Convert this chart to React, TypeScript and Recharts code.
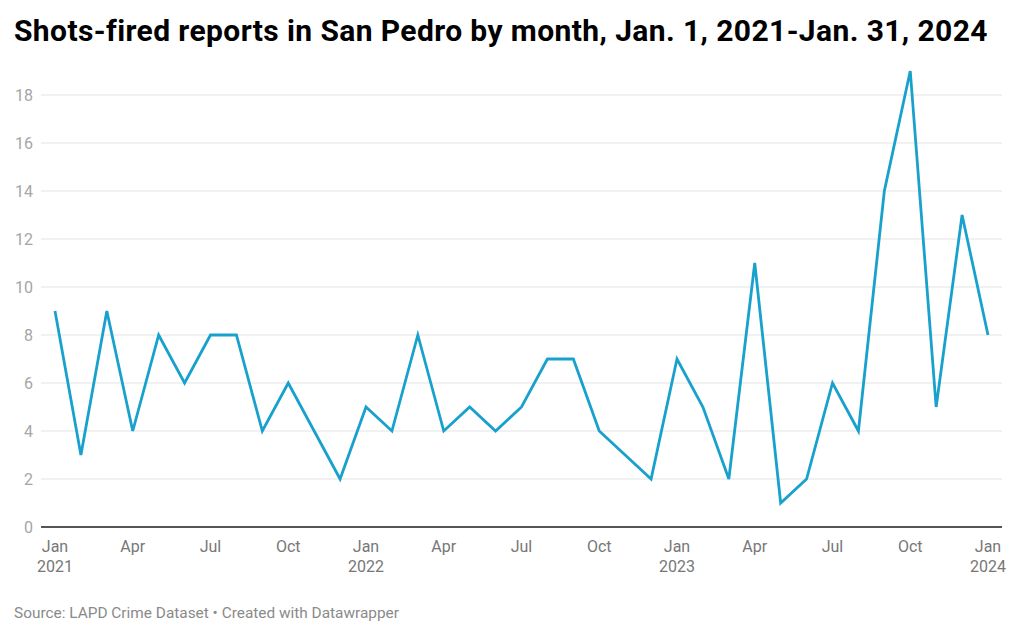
import React from "react";
import { LineChart, Line, XAxis, YAxis, CartesianGrid } from "recharts";

const months: string[] = [
  "2021-01","2021-02","2021-03","2021-04","2021-05","2021-06","2021-07","2021-08","2021-09","2021-10","2021-11","2021-12",
  "2022-01","2022-02","2022-03","2022-04","2022-05","2022-06","2022-07","2022-08","2022-09","2022-10","2022-11","2022-12",
  "2023-01","2023-02","2023-03","2023-04","2023-05","2023-06","2023-07","2023-08","2023-09","2023-10","2023-11","2023-12",
  "2024-01",
];
const reports: number[] = [
  9, 3, 9, 4, 8, 6, 8, 8, 4, 6, 4, 2,
  5, 4, 8, 4, 5, 4, 5, 7, 7, 4, 3, 2,
  7, 5, 2, 11, 1, 2, 6, 4, 14, 19, 5, 13,
  8,
];
const monthNames: string[] = ["Jan","Feb","Mar","Apr","May","Jun","Jul","Aug","Sep","Oct","Nov","Dec"];
const yTicks: number[] = [0, 2, 4, 6, 8, 10, 12, 14, 16, 18];

const data = months.map((m, i) => ({ month: m, value: reports[i] }));

const FONT = "Roboto, 'Noto Sans', sans-serif";

const XTick = (props: any) => {
  const { x, y, payload } = props;
  const [yr, mo] = String(payload.value).split("-");
  const name = monthNames[parseInt(mo, 10) - 1];
  return (
    <g>
      <text x={x} y={y + 17} textAnchor="middle" fill="#777" fontSize={16} fontFamily={FONT}>
        {name}
      </text>
      {mo === "01" && (
        <text x={x} y={y + 37} textAnchor="middle" fill="#777" fontSize={16} fontFamily={FONT}>
          {yr}
        </text>
      )}
    </g>
  );
};

export default function App() {
  return (
    <div style={{ position: "absolute", left: 0, top: 0, width: 1024, height: 637, background: "#fff", fontFamily: FONT }}>
      <div
        style={{
          position: "absolute",
          left: 14,
          top: 16,
          fontSize: 30,
          lineHeight: "30px",
          fontWeight: 700,
          letterSpacing: 0.4,
          color: "#000",
          whiteSpace: "nowrap",
        }}
      >
        Shots-fired reports in San Pedro by month, Jan. 1, 2021-Jan. 31, 2024
      </div>
      <LineChart
        width={1024}
        height={637}
        data={data}
        margin={{ top: 71, right: 22, bottom: 0, left: 0 }}
      >
        <CartesianGrid vertical={false} stroke="#e3e3e3" strokeWidth={1} horizontalValues={yTicks} />
        <XAxis
          dataKey="month"
          interval={2}
          padding={{ left: 14, right: 14 }}
          axisLine={{ stroke: "#222", strokeWidth: 1.5 }}
          tickLine={false}
          tick={<XTick />}
          height={110}
        />
        <YAxis
          width={41}
          domain={[0, 19]}
          ticks={yTicks}
          axisLine={false}
          tickLine={false}
          tickSize={0}
          tickMargin={8}
          tick={{ fill: "#a6a6a6", fontSize: 16, fontFamily: FONT }}
          interval={0}
        />
        <Line
          type="linear"
          dataKey="value"
          stroke="#18a1cd"
          strokeWidth={2.8}
          strokeLinejoin="miter"
          dot={false}
          activeDot={false}
          isAnimationActive={false}
        />
      </LineChart>
      <div
        style={{
          position: "absolute",
          left: 14,
          top: 604,
          fontSize: 15.4,
          lineHeight: "18px",
          color: "#8a8a8a",
          whiteSpace: "nowrap",
        }}
      >
        Source: LAPD Crime Dataset • Created with Datawrapper
      </div>
    </div>
  );
}
